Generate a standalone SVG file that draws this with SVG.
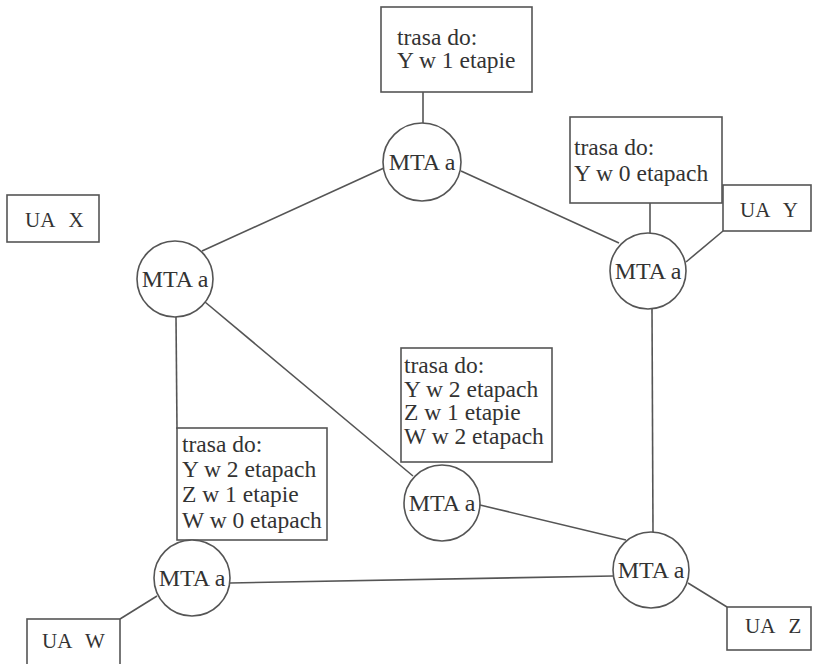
<svg xmlns="http://www.w3.org/2000/svg" width="814" height="664" viewBox="0 0 814 664">
  <style>
    .link { stroke: #555; stroke-width: 1.6; fill: none; }
    .box { fill: #fff; stroke: #555; stroke-width: 1.6; }
    .mta { fill: #fff; stroke: #555; stroke-width: 1.6; }
    .txt { font-family: "Liberation Serif", "Times New Roman", serif; font-size: 23.5px; fill: #333; }
    .mtxt { font-family: "Liberation Serif", "Times New Roman", serif; font-size: 24px; fill: #333; text-anchor: middle; }
    .ua { font-family: "Liberation Serif", "Times New Roman", serif; font-size: 21px; fill: #333; word-spacing: 9px; }
  </style>
  <rect width="814" height="664" fill="#fff"/>

  <!-- connectors -->
  <g id="connectors">
    <line class="link" x1="423" y1="92" x2="423" y2="123"/>
    <line class="link" x1="202" y1="251" x2="384" y2="168"/>
    <line class="link" x1="461" y1="171" x2="619" y2="243"/>
    <line class="link" x1="650" y1="203" x2="650" y2="233"/>
    <line class="link" x1="686" y1="262" x2="723" y2="231"/>
    <line class="link" x1="205" y1="302" x2="413" y2="476"/>
    <line class="link" x1="176" y1="317" x2="177" y2="429"/>
    <line class="link" x1="652" y1="309" x2="653" y2="532"/>
    <line class="link" x1="480" y1="505" x2="626" y2="540"/>
    <line class="link" x1="230" y1="583" x2="613" y2="576"/>
    <line class="link" x1="157" y1="596" x2="120" y2="619"/>
    <line class="link" x1="688" y1="583" x2="727" y2="607"/>
  </g>

  <!-- routing tables -->
  <g id="table-top">
    <rect class="box" x="381" y="7" width="151" height="85"/>
    <text class="txt" x="397" y="45">trasa do:</text>
    <text class="txt" x="397" y="68">Y w 1 etapie</text>
  </g>
  <g id="table-right">
    <rect class="box" x="570" y="117" width="152" height="86"/>
    <text class="txt" x="574" y="155">trasa do:</text>
    <text class="txt" x="574" y="181">Y w 0 etapach</text>
  </g>
  <g id="table-middle">
    <rect class="box" x="401" y="348" width="151" height="114"/>
    <text class="txt" x="404" y="373">trasa do:</text>
    <text class="txt" x="404" y="397">Y w 2 etapach</text>
    <text class="txt" x="404" y="420">Z w 1 etapie</text>
    <text class="txt" x="404" y="444">W w 2 etapach</text>
  </g>
  <g id="table-left">
    <rect class="box" x="177" y="428" width="150" height="112"/>
    <text class="txt" x="182" y="452">trasa do:</text>
    <text class="txt" x="182" y="477">Y w 2 etapach</text>
    <text class="txt" x="182" y="502">Z w 1 etapie</text>
    <text class="txt" x="182" y="528">W w 0 etapach</text>
  </g>

  <!-- user agents -->
  <g id="ua-x">
    <rect class="box" x="7" y="195" width="92" height="47"/>
    <text class="ua" x="25" y="227">UA X</text>
  </g>
  <g id="ua-y">
    <rect class="box" x="723" y="185" width="88" height="46"/>
    <text class="ua" x="740" y="217">UA Y</text>
  </g>
  <g id="ua-w">
    <rect class="box" x="27" y="619" width="93" height="50"/>
    <text class="ua" x="42" y="648">UA W</text>
  </g>
  <g id="ua-z">
    <rect class="box" x="727" y="607" width="84" height="43"/>
    <text class="ua" x="745" y="633">UA Z</text>
  </g>

  <!-- mail transfer agents -->
  <g id="mta-top">
    <circle class="mta" cx="422" cy="162" r="39"/>
    <text class="mtxt" x="422" y="170">MTA a</text>
  </g>
  <g id="mta-left">
    <circle class="mta" cx="175" cy="279" r="38"/>
    <text class="mtxt" x="175" y="287">MTA a</text>
  </g>
  <g id="mta-right">
    <circle class="mta" cx="648" cy="271" r="38"/>
    <text class="mtxt" x="648" y="279">MTA a</text>
  </g>
  <g id="mta-middle">
    <circle class="mta" cx="442" cy="503" r="38"/>
    <text class="mtxt" x="442" y="511">MTA a</text>
  </g>
  <g id="mta-bottom-left">
    <circle class="mta" cx="192" cy="578" r="38"/>
    <text class="mtxt" x="192" y="586">MTA a</text>
  </g>
  <g id="mta-bottom-right">
    <circle class="mta" cx="651" cy="570" r="38"/>
    <text class="mtxt" x="651" y="578">MTA a</text>
  </g>
</svg>
